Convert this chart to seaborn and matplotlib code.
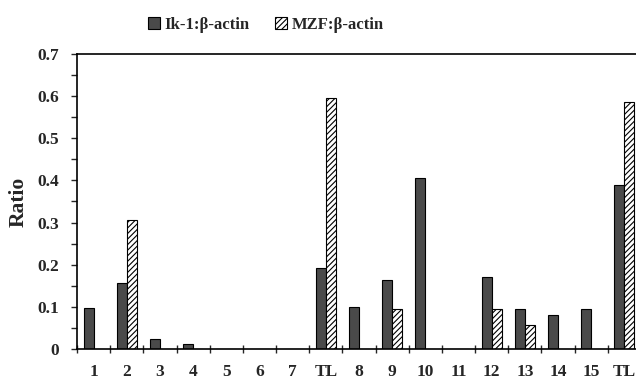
import matplotlib
matplotlib.use("Agg")
import matplotlib.pyplot as plt
import seaborn as sns
import pandas as pd
import numpy as np
from matplotlib.ticker import MultipleLocator, FixedLocator

categories = ["1", "2", "3", "4", "5", "6", "7", "TL", "8", "9", "10", "11", "12", "13", "14", "15", "TL"]
ik1 = [0.097, 0.157, 0.024, 0.011, 0, 0, 0, 0.193, 0.100, 0.164, 0.406, 0, 0.170, 0.095, 0.081, 0.095, 0.390]
mzf = [0, 0.306, 0, 0, 0, 0, 0, 0.595, 0, 0.095, 0, 0, 0.095, 0.057, 0, 0, 0.585]
series_names = ["Ik-1:β-actin", "MZF:β-actin"]

sns.set_theme(style="white")
plt.rcParams["font.family"] = ["Liberation Serif", "DejaVu Serif"]
plt.rcParams["font.weight"] = "bold"
plt.rcParams["hatch.linewidth"] = 0.8

keys = [f"c{i}" for i in range(len(categories))]
df = pd.DataFrame({
    "key": keys * 2,
    "value": ik1 + mzf,
    "series": [series_names[0]] * len(keys) + [series_names[1]] * len(keys),
})

fig = plt.figure(figsize=(6.36, 3.83), dpi=100)
ax = fig.add_axes([77 / 636, 1 - 349 / 383, (641 - 77) / 636, (349 - 54) / 383])

sns.barplot(data=df, x="key", y="value", hue="series", order=keys,
            hue_order=series_names, palette=["#4a4a4a", "white"],
            width=0.6, edgecolor="black", linewidth=0.8, saturation=1,
            ax=ax, legend=True)

for bar in ax.containers[1]:
    bar.set_hatch("//////")

ax.set_xlim(-0.5, len(keys) - 0.5)
ax.set_ylim(0, 0.7)
ax.yaxis.set_major_locator(MultipleLocator(0.1))
ax.yaxis.set_minor_locator(MultipleLocator(0.05))
ax.set_yticklabels(["0" if abs(v) < 1e-9 else f"{v:.1f}" for v in ax.get_yticks()],
                   fontsize=12.5, fontweight="bold")
ax.set_xticks(range(len(keys)))
ax.set_xticklabels(categories, fontsize=12.5, fontweight="bold")
ax.xaxis.set_minor_locator(FixedLocator(np.arange(-0.5, len(keys), 1.0)))
ax.tick_params(axis="x", which="major", length=0, pad=11)
ax.tick_params(axis="x", which="minor", length=6, width=1, direction="inout", bottom=True)
ax.tick_params(axis="y", which="both", length=4, width=1, direction="out", left=True, pad=9)

ax.set_xlabel("")
ax.set_ylabel("Ratio", fontsize=15.5, fontweight="bold", labelpad=6)

for side in ["left", "bottom", "top"]:
    ax.spines[side].set_visible(True)
    ax.spines[side].set_color("black")
    ax.spines[side].set_linewidth(1.2)
ax.spines["right"].set_visible(False)

leg = ax.legend(loc="upper center", bbox_to_anchor=(266 / 636, 0.995), bbox_transform=fig.transFigure,
                ncol=2, frameon=False, handlelength=0.7, handleheight=0.7,
                handletextpad=0.3, columnspacing=1.5, prop={"weight": "bold", "size": 12})
for h in leg.legend_handles:
    h.set_edgecolor("black")
    h.set_linewidth(0.8)
leg.legend_handles[1].set_hatch("//////")

fig.savefig("out.png", dpi=100)
